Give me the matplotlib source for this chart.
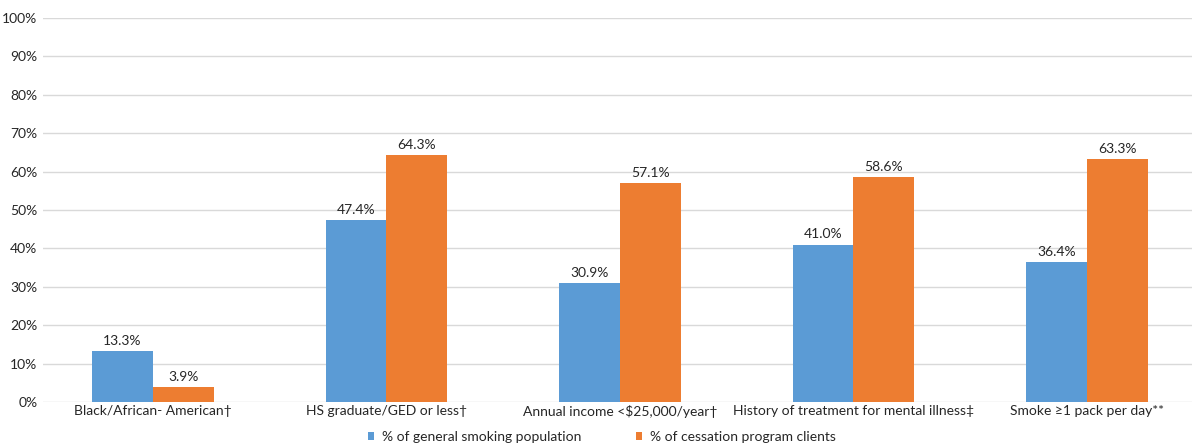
import numpy as np
import matplotlib.pyplot as plt

plt.rcParams['font.family'] = ['Lato', 'DejaVu Sans']

categories = [
    "Black/African- American\u2020",
    "HS graduate/GED or less\u2020",
    "Annual income <$25,000/year\u2020",
    "History of treatment for mental illness\u2021",
    "Smoke \u22651 pack per day**",
]
general_pop = [13.3, 47.4, 30.9, 41.0, 36.4]
program_clients = [3.9, 64.3, 57.1, 58.6, 63.3]
series_names = ["% of general smoking population", "% of cessation program clients"]

blue = "#5B9BD5"
orange = "#ED7D31"
text_color = "#262626"

fig = plt.figure(figsize=(11.92, 4.47), dpi=100)
ax = fig.add_axes([43 / 1192, 45 / 447, (1192 - 43) / 1192, 384 / 447])

x = np.arange(len(categories))
w = 0.261
b1 = ax.bar(x - w / 2, general_pop, w, color=blue, label=series_names[0], zorder=3)
b2 = ax.bar(x + w / 2, program_clients, w, color=orange, label=series_names[1], zorder=3)

for bars, vals in ((b1, general_pop), (b2, program_clients)):
    for bar, v in zip(bars, vals):
        ax.annotate(f"{v:.1f}%", (bar.get_x() + bar.get_width() / 2, v),
                    xytext=(0, 3), textcoords="offset points",
                    ha="center", va="bottom", fontsize=10, color=text_color)

ax.set_ylim(0, 100)
ax.set_xlim(-0.471, 4.45)
ax.set_yticks(np.arange(0, 101, 10))
ax.set_yticklabels([f"{t}%" for t in range(0, 101, 10)])
ax.set_xticks(x)
ax.set_xticklabels(categories)
ax.tick_params(axis="both", length=0, labelsize=10, colors=text_color)
ax.tick_params(axis="x", pad=2)
ax.tick_params(axis="y", pad=4)
ax.grid(axis="y", color="#D9D9D9", linewidth=1, zorder=0)
for s in ax.spines.values():
    s.set_visible(False)

fig.legend(handles=[b1, b2], loc="center", bbox_to_anchor=(602 / 1192, 1 - 437 / 447),
           ncol=2, frameon=False, fontsize=10, handlelength=0.45, handleheight=0.45,
           handletextpad=0.6, columnspacing=3.9, labelcolor=text_color)

fig.savefig("out.png", dpi=100)
